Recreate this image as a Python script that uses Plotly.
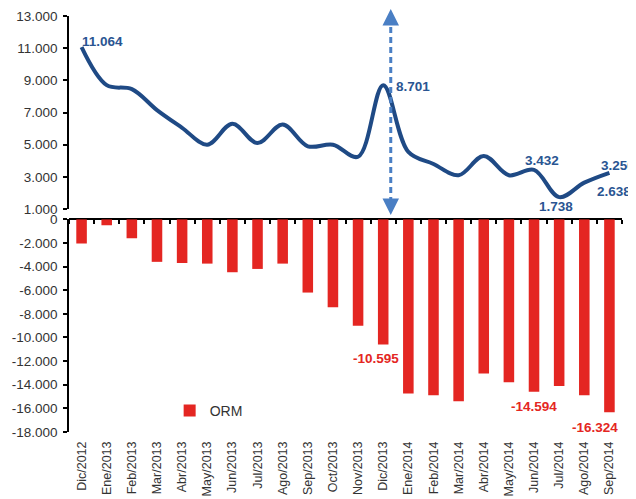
import plotly.graph_objects as go

categories = ["Dic/2012", "Ene/2013", "Feb/2013", "Mar/2013", "Abr/2013", "May/2013",
              "Jun/2013", "Jul/2013", "Ago/2013", "Sep/2013", "Oct/2013", "Nov/2013",
              "Dic/2013", "Ene/2014", "Feb/2014", "Mar/2014", "Abr/2014", "May/2014",
              "Jun/2014", "Jul/2014", "Ago/2014", "Sep/2014"]

line_values = [11064, 8700, 8450, 7150, 6050, 5000, 6300, 5100, 6250, 4900, 5000, 4250,
               8701, 4550, 3800, 3100, 4300, 3100, 3432, 1738, 2638, 3250]

orm_values = [-2050, -500, -1600, -3600, -3700, -3750, -4480, -4200, -3750, -6200, -7450,
              -9000, -10595, -14750, -14900, -15400, -13050, -13800, -14594, -14100,
              -14900, -16324]

top_ticks = [1000, 3000, 5000, 7000, 9000, 11000, 13000]
top_ticktext = ["1.000", "3.000", "5.000", "7.000", "9.000", "11.000", "13.000"]
bottom_ticks = [0, -2000, -4000, -6000, -8000, -10000, -12000, -14000, -16000, -18000]
bottom_ticktext = ["0", "-2.000", "-4.000", "-6.000", "-8.000", "-10.000", "-12.000",
                   "-14.000", "-16.000", "-18.000"]

# labelled points: (index, xshift, yshift)
line_labels = [(0, 21, 6), (12, 30, -1), (18, 8, 9), (19, -3, -9), (20, 30, -9), (21, 9, 7)]
bar_labels = [(12, -7, -14), (18, 0, -15), (21, -14, -15)]

FONT = "Liberation Sans, Arial, sans-serif"
LINE_BLUE = "#1F4A85"
LABEL_BLUE = "#2A5592"
RED = "#E42622"
ARROW_BLUE = "#4A7FC4"

# the page body adds an 8px margin; size the figure so the whole chart fits the window
OFF = 8
W, H = 636 - OFF, 499 - OFF
ML, MR, MT, MB = 69 - OFF, 14, 16 - OFF, 67
plot_h = H - MT - MB

def py(p):
    """absolute window pixel row -> paper fraction"""
    return (H - MB - (p - OFF)) / plot_h

top_dom = [py(209), 1.0]
bot_top = py(219.3)
bot_dom = [0.0, bot_top]

def fmt(v):
    return f"{v:,}".replace(",", ".")

fig = go.Figure()

fig.add_trace(go.Scatter(
    x=categories, y=line_values, mode="lines",
    line=dict(color=LINE_BLUE, width=4, shape="spline", smoothing=1.0),
    xaxis="x", yaxis="y", showlegend=False, hoverinfo="skip"))

fig.add_trace(go.Bar(
    x=categories, y=orm_values, name="ORM", marker=dict(color=RED, line=dict(width=0)),
    xaxis="x2", yaxis="y2", showlegend=True))

annotations = []
for i, xs, ys in line_labels:
    annotations.append(dict(
        x=categories[i], y=line_values[i], xref="x", yref="y", text=fmt(line_values[i]),
        showarrow=False, xshift=xs, yshift=ys, xanchor="center", yanchor="middle",
        font=dict(family=FONT, size=13.5, color=LABEL_BLUE, weight="bold")))
for i, xs, ys in bar_labels:
    annotations.append(dict(
        x=categories[i], y=orm_values[i], xref="x2", yref="y2", text=fmt(orm_values[i]),
        showarrow=False, xshift=xs, yshift=ys, xanchor="center", yanchor="middle",
        font=dict(family=FONT, size=13.5, color=RED, weight="bold")))

# dashed double-headed arrow near Dic/2013
arrow_x = 12.3
annotations.append(dict(x=arrow_x, y=py(9), xref="x", yref="paper", ax=0, ay=8,
                        text="", showarrow=True,
                        arrowhead=2, arrowsize=1.1, arrowwidth=3, arrowcolor=ARROW_BLUE))
annotations.append(dict(x=arrow_x, y=py(215), xref="x", yref="paper", ax=0, ay=-8,
                        text="", showarrow=True,
                        arrowhead=2, arrowsize=1.1, arrowwidth=3, arrowcolor=ARROW_BLUE))

shapes = [dict(type="line", xref="x", yref="paper", x0=arrow_x, x1=arrow_x,
               y0=py(17), y1=py(207), line=dict(color=ARROW_BLUE, width=3, dash="6px,4px"))]

tickfont = dict(family=FONT, size=13.5, color="#333333")

fig.update_layout(
    width=W, height=H,
    margin=dict(l=ML, r=MR, t=MT, b=MB),
    paper_bgcolor="white", plot_bgcolor="white",
    bargap=0.58,
    showlegend=True,
    legend=dict(x=0.182, y=py(411), xanchor="left", yanchor="middle",
                bgcolor="rgba(0,0,0,0)", font=dict(family=FONT, size=14, color="#333333"),
                itemwidth=30),
    xaxis=dict(domain=[0, 1], anchor="free", position=bot_top, side="bottom",
               range=[-0.5, 21.5], showline=True, linecolor="black", linewidth=1.5,
               ticks="outside", ticklen=4, tickcolor="black", tickwidth=1.5,
               tickson="boundaries", showticklabels=False, showgrid=False, zeroline=False,
               automargin=False),
    yaxis=dict(domain=top_dom, anchor="x", range=[1000, 13000], tickvals=top_ticks,
               ticktext=top_ticktext, showline=True, linecolor="black", linewidth=1.5,
               ticks="outside", ticklen=4, tickcolor="black", tickwidth=1.5,
               showgrid=False, zeroline=False, tickfont=tickfont, ticklabelstandoff=3,
               automargin=False),
    xaxis2=dict(domain=[0, 1], anchor="y2", range=[-0.5, 21.5], showline=False,
                ticks="", tickangle=-90, showgrid=False, zeroline=False,
                tickfont=dict(family=FONT, size=12.5, color="#333333"),
                ticklabelstandoff=6, automargin=False),
    yaxis2=dict(domain=bot_dom, anchor="x2", range=[-18000, 0], tickvals=bottom_ticks,
                ticktext=bottom_ticktext, showline=True, linecolor="black", linewidth=1.5,
                ticks="outside", ticklen=4, tickcolor="black", tickwidth=1.5,
                showgrid=False, zeroline=False, tickfont=tickfont, ticklabelstandoff=3,
                automargin=False),
    annotations=annotations,
    shapes=shapes,
)

fig.write_html("out.html")
